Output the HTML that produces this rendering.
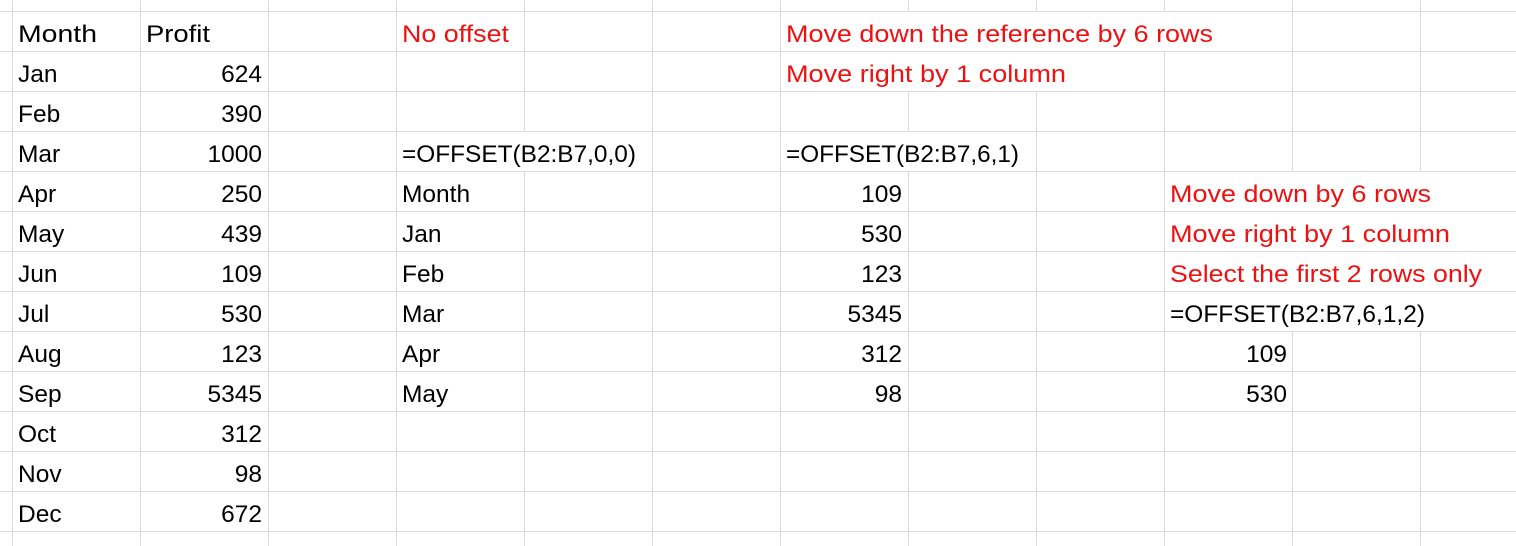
<!DOCTYPE html>
<html><head><meta charset="utf-8"><style>
html,body{margin:0;padding:0;background:#fff;width:1516px;height:546px;overflow:hidden}
svg text{font-family:"Liberation Sans",sans-serif;font-size:24.5px;fill:#000}
svg text.r{fill:#ee1111}
</style></head><body>
<svg id="sheet" width="1516" height="546" xmlns="http://www.w3.org/2000/svg"></svg>
<script>
const months=["Jan","Feb","Mar","Apr","May","Jun","Jul","Aug","Sep","Oct","Nov","Dec"];
const profits=[624,390,1000,250,439,109,530,123,5345,312,98,672];
const offsetA=["Month","Jan","Feb","Mar","Apr","May"];
const offsetB=[109,530,123,5345,312,98];
const offsetC=[109,530];
const svg=document.getElementById('sheet');
const NS="http://www.w3.org/2000/svg";
const colX=[12,140,268,396,524,652,780,908,1036,1164,1292,1420];
function rowBase(r){return 42+40*r;}
const g=document.createElementNS(NS,'g');


svg.appendChild(g);
colX.forEach(x=>{const l=document.createElementNS(NS,'line');l.setAttribute('x1',x+0.5);l.setAttribute('x2',x+0.5);l.setAttribute('y1',0);l.setAttribute('y2',546);l.setAttribute('stroke','#dadada');l.setAttribute('stroke-width','1');g.appendChild(l);});
for(let y=11;y<546;y+=40){const l=document.createElementNS(NS,'line');l.setAttribute('x1',0);l.setAttribute('x2',1516);l.setAttribute('y1',y+0.5);l.setAttribute('y2',y+0.5);l.setAttribute('stroke','#dadada');l.setAttribute('stroke-width','1');g.appendChild(l);}
function mask(x1,x2,row){const m=document.createElementNS(NS,'rect');m.setAttribute('x',x1+1);m.setAttribute('width',x2-x1-1);m.setAttribute('y',12+40*row);m.setAttribute('height',39);m.setAttribute('fill','#fff');g.appendChild(m);}
mask(780,1292,0);mask(780,1164,1);mask(396,652,3);mask(780,1036,3);
[4,5,6,7].forEach(r=>mask(1164,1516,r));
function txt(s,x,row,opts={}){
  const t=document.createElementNS(NS,'text');
  t.textContent=s;
  t.setAttribute('x',x);t.setAttribute('y',rowBase(row));
  if(opts.anchor)t.setAttribute('text-anchor',opts.anchor);
  if(opts.cls)t.setAttribute('class',opts.cls);
  if(opts.len){t.setAttribute('textLength',opts.len);t.setAttribute('lengthAdjust','spacingAndGlyphs');}
  
  
  svg.appendChild(t);
}
txt("Month",18,0,{name:'header-month',len:79});
txt("Profit",146,0,{name:'header-profit',len:64});
months.forEach((m,i)=>txt(m,18,i+1,{name:'month-'+m.toLowerCase()}));
profits.forEach((p,i)=>txt(String(p),262,i+1,{anchor:'end',name:'profit-'+months[i].toLowerCase()}));
txt("No offset",402,0,{cls:'r',len:107,name:'note-no-offset'});
txt("=OFFSET(B2:B7,0,0)",402,3,{len:234,name:'formula-offset-0-0'});
offsetA.forEach((v,i)=>txt(v,402,4+i,{name:'offset-a-'+i}));
txt("Move down the reference by 6 rows",786,0,{cls:'r',len:427,name:'note-move-down'});
txt("Move right by 1 column",786,1,{cls:'r',len:280,name:'note-move-right'});
txt("=OFFSET(B2:B7,6,1)",786,3,{len:233,name:'formula-offset-6-1'});
offsetB.forEach((v,i)=>txt(String(v),902,4+i,{anchor:'end',name:'offset-b-'+i}));
txt("Move down by 6 rows",1170,4,{cls:'r',len:261,name:'note-move-down-2'});
txt("Move right by 1 column",1170,5,{cls:'r',len:280,name:'note-move-right-2'});
txt("Select the first 2 rows only",1170,6,{cls:'r',len:312,name:'note-select-rows'});
txt("=OFFSET(B2:B7,6,1,2)",1170,7,{len:255,name:'formula-offset-6-1-2'});
offsetC.forEach((v,i)=>txt(String(v),1287,8+i,{anchor:'end',name:'offset-c-'+i}));
</script>
</body></html>
